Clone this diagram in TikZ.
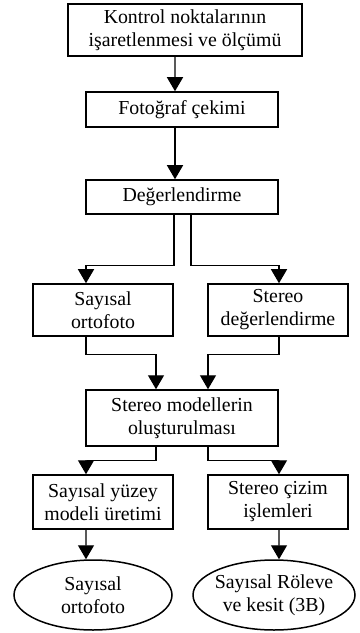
\documentclass[tikz,border=0pt]{standalone}
\usepackage{fontspec}
\setmainfont{Liberation Serif}
\usetikzlibrary{arrows.meta,shapes.geometric}

\tikzset{
  kutu/.style={draw, line width=0.9pt, align=center, inner sep=0pt,
    font=\fontsize{11.9}{13.8}\selectfont},
  elips/.style={kutu, ellipse, inner xsep=-10pt, inner ysep=-4pt},
  ok/.style={-{Triangle[width=9.6pt,length=8.4pt]}, line width=0.8pt}
}

\begin{document}
\begin{tikzpicture}[x=0.6pt,y=-0.6pt]
  \useasboundingbox (0,0) rectangle (359,633);
  % kutular
  \node[kutu, minimum width=140.4pt, minimum height=31.2pt] (kontrol) at (185,30) {Kontrol noktalarının\\işaretlenmesi ve ölçümü};
  \node[kutu, minimum width=115.2pt, minimum height=21pt] (foto) at (182,109.5) {Fotoğraf çekimi};
  \node[kutu, minimum width=115.2pt, minimum height=20.4pt] (degr) at (182,197) {Değerlendirme};
  \node[kutu, minimum width=84pt, minimum height=31.2pt] (sayort) at (103,310) {Sayısal\\ortofoto};
  \node[kutu, minimum width=84pt, minimum height=31.2pt] (stdeg) at (278,310) {Stereo\\değerlendirme};
  \node[kutu, minimum width=115.2pt, minimum height=33.6pt] (stmod) at (182,418) {Stereo modellerin\\oluşturulması};
  \node[kutu, minimum width=84pt, minimum height=32.4pt] (sym) at (103,502) {Sayısal yüzey\\modeli üretimi};
  \node[kutu, minimum width=84pt, minimum height=32.4pt] (stcizim) at (278,502) {Stereo çizim\\işlemleri};
  % sonuclar
  \node[elips, minimum width=94.8pt, minimum height=42pt] (ortofin) at (93,595) {Sayısal\\ortofoto};
  \node[elips, minimum width=97.2pt, minimum height=42pt] (roleve) at (274,595) {Sayısal Röleve\\ve kesit (3B)};
  % oklar
  \draw[ok] ([xshift=-6pt]kontrol.south) -- ([xshift=-4.2pt]foto.north);
  \draw[ok] ([xshift=-4.2pt]foto.south) -- ([xshift=-4.2pt]degr.north);
  \draw[ok] ([xshift=-4.8pt]degr.south) -- ++(0,51) -| ([xshift=-10.2pt]sayort.north);
  \draw[ok] ([xshift=5.4pt]degr.south) -- ++(0,51) -| ([xshift=0.6pt]stdeg.north);
  \draw[ok] ([xshift=-10.2pt]sayort.south) -- ++(0,18) -| ([xshift=-15.6pt]stmod.north);
  \draw[ok] ([xshift=0.6pt]stdeg.south) -- ++(0,18) -| ([xshift=15.6pt]stmod.north);
  \draw[ok] ([xshift=-15.6pt]stmod.south) -- ++(0,14) -| ([xshift=-10.2pt]sym.north);
  \draw[ok] ([xshift=15.6pt]stmod.south) -- ++(0,14) -| ([xshift=0.6pt]stcizim.north);
  \draw[ok] ([xshift=-10.2pt]sym.south) -- ([xshift=-4.2pt]ortofin.north);
  \draw[ok] ([xshift=0.6pt]stcizim.south) -- ([xshift=3pt]roleve.north);
\end{tikzpicture}
\end{document}
